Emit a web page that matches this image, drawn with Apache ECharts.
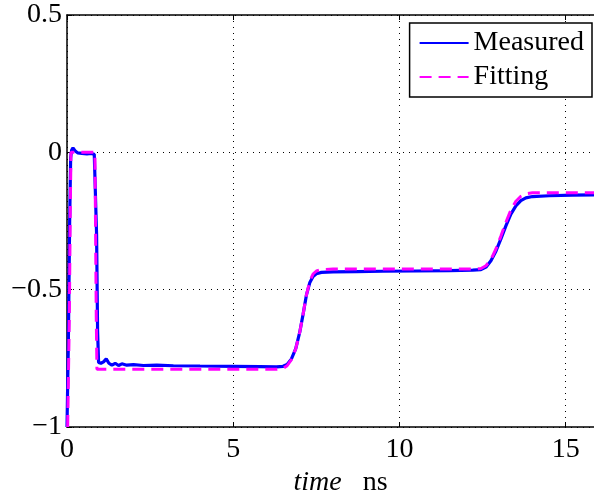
<!DOCTYPE html>
<html><head><meta charset="utf-8">
<script src="https://cdn.jsdelivr.net/npm/echarts@6/dist/echarts.min.js"></script>
<style>html,body{margin:0;padding:0;background:#fff;overflow:hidden}#c{width:594px;height:492px}</style>
</head><body><div id="c"></div>
<script>
const seriesNames = ['Measured', 'Fitting'];
const xTicks = [0, 5, 10, 15];
const yTicks = [-1, -0.5, 0, 0.5];
const measured = [
  [0,-1],[0.04,-0.7],[0.08,-0.25],[0.11,-0.02],[0.14,0.008],[0.18,0.016],[0.24,0.006],[0.32,-0.002],
  [0.45,-0.004],[0.6,-0.006],[0.72,-0.004],[0.82,-0.007],[0.87,-0.01],[0.89,-0.3],[0.92,-0.65],[0.95,-0.765],
  [1.02,-0.768],[1.1,-0.763],[1.18,-0.752],[1.26,-0.768],[1.35,-0.775],[1.45,-0.768],[1.55,-0.776],[1.65,-0.77],
  [1.8,-0.775],[2.0,-0.773],[2.3,-0.776],[2.7,-0.775],[3.2,-0.777],[4.0,-0.778],[5.0,-0.779],[5.8,-0.78],
  [6.3,-0.781],[6.5,-0.779],[6.62,-0.772],[6.75,-0.752],[6.88,-0.715],[7.0,-0.655],[7.1,-0.59],[7.2,-0.52],
  [7.3,-0.475],[7.4,-0.452],[7.5,-0.442],[7.65,-0.437],[8.0,-0.435],[8.7,-0.434],[9.5,-0.433],[10.5,-0.432],
  [11.5,-0.431],[12.2,-0.429],[12.45,-0.427],[12.6,-0.418],[12.75,-0.395],[12.9,-0.36],[13.05,-0.315],[13.2,-0.268],
  [13.35,-0.225],[13.5,-0.195],[13.65,-0.176],[13.8,-0.166],[14.0,-0.161],[14.5,-0.158],[15.2,-0.156],[15.85,-0.155]
];
const fitting = [
  [0.02,-1],[0.07,-0.6],[0.1,-0.2],[0.12,0],[0.5,0],[0.84,0],[0.86,-0.3],[0.88,-0.6],[0.9,-0.79],
  [2.0,-0.79],[4.0,-0.79],[6.3,-0.79],[6.5,-0.787],[6.62,-0.777],[6.75,-0.755],[6.88,-0.715],[7.0,-0.655],
  [7.1,-0.59],[7.2,-0.52],[7.3,-0.47],[7.4,-0.443],[7.5,-0.432],[7.65,-0.427],[8.0,-0.425],[10.0,-0.425],
  [12.3,-0.425],[12.45,-0.423],[12.6,-0.413],[12.75,-0.39],[12.9,-0.352],[13.05,-0.305],[13.2,-0.255],
  [13.35,-0.21],[13.5,-0.178],[13.65,-0.16],[13.8,-0.151],[14.0,-0.147],[15.0,-0.147],[15.85,-0.147]
];
const font = "'Liberation Serif', 'Times New Roman', serif";
const chart = echarts.init(document.getElementById('c'));
const fmtY = v => yTicks.includes(v) ? String(v).replace('-', '\u2212') : '';
const fmtX = v => xTicks.includes(v) ? String(v) : '';
chart.setOption({
  animation: false,
  backgroundColor: '#fff',
  grid: { left: 67, right: 0, top: 15, bottom: 65, containLabel: false, outerBoundsMode: 'none' },
  legend: {
    orient: 'vertical', right: 2, top: 23,
    padding: [5, 8, 5, 9], itemGap: 4, itemWidth: 49, itemHeight: 14, itemTextGap: 4,
    backgroundColor: '#fff', borderColor: '#000', borderWidth: 1.5, borderRadius: 0,
    itemStyle: { opacity: 0 },
    textStyle: { fontFamily: font, fontSize: 28, color: '#000', lineHeight: 30 },
    data: seriesNames
  },
  xAxis: [{
    type: 'value', min: 0, max: 15.85, interval: 5, position: 'bottom',
    axisLine: { show: true, onZero: false, lineStyle: { color: '#000', width: 1.5 } },
    axisTick: { show: true, inside: true, length: 5, lineStyle: { color: '#000' } },
    axisLabel: { fontFamily: font, fontSize: 28, color: '#000', margin: 9, formatter: fmtX, showMaxLabel: false },
    splitLine: { show: true, lineStyle: { color: '#000', type: [1, 5], width: 1 } },
    name: '{i|time}   ns', nameLocation: 'middle', nameGap: 35,
    nameTextStyle: { fontFamily: font, fontSize: 28, color: '#000', padding: [0, 0, 0, 20],
      rich: { i: { fontFamily: font, fontSize: 28, fontStyle: 'italic', color: '#000' } } }
  }, {
    type: 'value', min: 0, max: 15.85, interval: 5, position: 'top',
    axisLine: { show: true, onZero: false, lineStyle: { color: '#000', width: 1.5 } },
    axisTick: { show: true, inside: true, length: 5, lineStyle: { color: '#000' } },
    axisLabel: { show: false }, splitLine: { show: false }
  }],
  yAxis: {
    type: 'value', min: -1, max: 0.5, interval: 0.5,
    axisLine: { show: true, onZero: false, lineStyle: { color: '#000', width: 1.5 } },
    axisTick: { show: true, inside: true, length: 5, lineStyle: { color: '#000' } },
    axisLabel: { fontFamily: font, fontSize: 28, color: '#000', margin: 5, formatter: fmtY },
    splitLine: { show: true, lineStyle: { color: '#000', type: [1, 5], width: 1 } }
  },
  series: [{
    name: seriesNames[0], type: 'line', data: measured, symbol: 'none', xAxisIndex: 0,
    lineStyle: { color: '#0000ff', width: 3.2 }, itemStyle: { color: '#0000ff' }, z: 2
  }, {
    name: seriesNames[1], type: 'line', data: fitting, symbol: 'none', xAxisIndex: 0,
    lineStyle: { color: '#ff00ff', width: 3, type: [12, 7] }, itemStyle: { color: '#ff00ff' }, z: 3
  }]
});
</script></body></html>
